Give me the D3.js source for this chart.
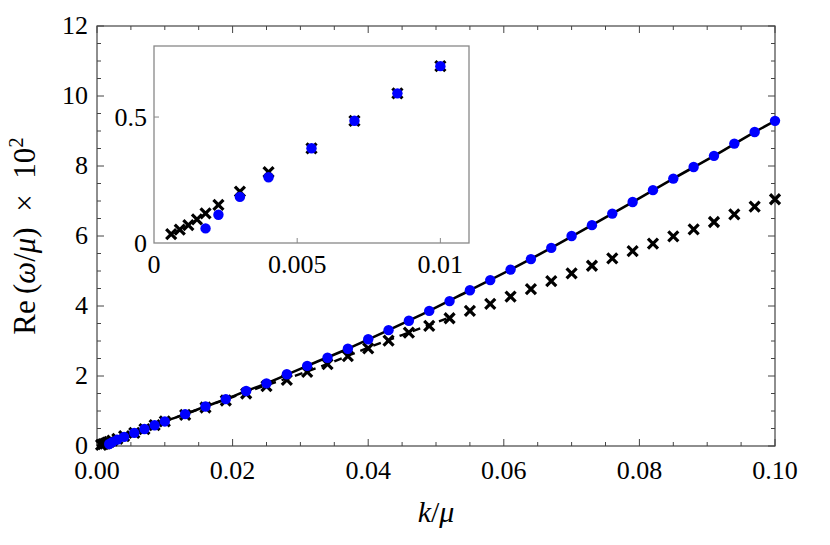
<!DOCTYPE html>
<html>
<head>
<meta charset="utf-8">
<script src="https://cdn.jsdelivr.net/npm/d3@7"></script>
<style>
  html, body { margin: 0; padding: 0; background: #fff; }
  text { font-family: "Liberation Serif", "DejaVu Serif", serif; }
</style>
</head>
<body>
<div id="grafico"></div>
<script>
// Datos: puntos azules (k/mu, Re(omega/mu) x 10^2)
const kPuntos = [0.0018, 0.00225, 0.003, 0.004, 0.0055, 0.007, 0.0085, 0.010,
  0.013, 0.016, 0.019, 0.022, 0.025, 0.028, 0.031, 0.034, 0.037, 0.040, 0.043, 0.046,
  0.049, 0.052, 0.055, 0.058, 0.061, 0.064, 0.067, 0.070, 0.073, 0.076, 0.079, 0.082,
  0.085, 0.088, 0.091, 0.094, 0.097, 0.100];
const rePuntos = [0.058, 0.112, 0.183, 0.261, 0.376, 0.485, 0.594, 0.702,
  0.91, 1.13, 1.34, 1.57, 1.79, 2.05, 2.29, 2.52, 2.78, 3.05, 3.31, 3.58,
  3.86, 4.14, 4.45, 4.74, 5.04, 5.34, 5.66, 6.00, 6.31, 6.64, 6.97, 7.31,
  7.64, 7.97, 8.29, 8.64, 8.97, 9.29];

// Datos: cruces negras
const kCruces = [0.0006, 0.0009, 0.0012, 0.0015, 0.0018, 0.00225, 0.003, 0.004, 0.0055, 0.007, 0.0085, 0.010,
  0.013, 0.016, 0.019, 0.022, 0.025, 0.028, 0.031, 0.034, 0.037, 0.040, 0.043, 0.046,
  0.049, 0.052, 0.055, 0.058, 0.061, 0.064, 0.067, 0.070, 0.073, 0.076, 0.079, 0.082,
  0.085, 0.088, 0.091, 0.094, 0.097, 0.100];
const reCruces = [0.035, 0.053, 0.071, 0.094, 0.118, 0.151, 0.204, 0.281, 0.376, 0.485, 0.594, 0.702,
  0.89, 1.10, 1.30, 1.50, 1.71, 1.89, 2.12, 2.34, 2.57, 2.79, 3.01, 3.24,
  3.43, 3.65, 3.86, 4.06, 4.27, 4.48, 4.71, 4.93, 5.15, 5.36, 5.57, 5.78,
  5.99, 6.19, 6.40, 6.62, 6.84, 7.05];

// Curva continua (pasa por los puntos azules desde el origen)
const kSolida = [0, 0.0018, 0.00225, 0.003, 0.004, 0.0055, 0.007, 0.0085, 0.010, 0.013, 0.016, 0.019,
  0.022, 0.025, 0.031, 0.037, 0.043, 0.049, 0.055, 0.061, 0.067, 0.073, 0.079, 0.085, 0.091, 0.097, 0.100];
const reSolida = [0, 0.058, 0.112, 0.183, 0.261, 0.376, 0.485, 0.594, 0.702, 0.91, 1.13, 1.34,
  1.57, 1.79, 2.29, 2.78, 3.31, 3.86, 4.45, 5.04, 5.66, 6.31, 6.97, 7.64, 8.29, 8.97, 9.29];

// Curva discontinua (solo hasta k ~ 0.052)
const kDiscontinua = [0, 0.005, 0.010, 0.015, 0.020, 0.025, 0.030, 0.035, 0.040, 0.045, 0.052];
const reDiscontinua = [0, 0.36, 0.70, 1.05, 1.40, 1.74, 2.06, 2.42, 2.81, 3.17, 3.67];

// Ticks
const ticksX = [0, 0.02, 0.04, 0.06, 0.08, 0.10];
const ticksY = [0, 2, 4, 6, 8, 10, 12];
const ticksXInset = [0, 0.005, 0.01];
const ticksYInset = [0, 0.5];

const width = 830;
const height = 545;

const svg = d3.select('#grafico')
  .append('svg')
  .attr('width', width)
  .attr('height', height);

// Área principal
const m = { left: 97, right: 775, top: 26, bottom: 446 };
const x = d3.scaleLinear().domain([0, 0.1]).range([m.left, m.right]);
const y = d3.scaleLinear().domain([0, 12]).range([m.bottom, m.top]);

const colorMarco = '#444';

// Ticks menores y mayores en los cuatro lados
const xMenores = d3.range(0, 0.1 + 1e-9, 0.005);
const yMenores = d3.range(0, 12 + 1e-9, 0.5);

function esMayor(v, lista) {
  return lista.some(t => Math.abs(t - v) < 1e-9);
}

const gTicks = svg.append('g').attr('stroke', colorMarco).attr('stroke-width', 1);
xMenores.forEach(v => {
  const l = esMayor(v, ticksX) ? 7 : 4;
  gTicks.append('line').attr('x1', x(v)).attr('x2', x(v)).attr('y1', m.bottom).attr('y2', m.bottom - l);
  gTicks.append('line').attr('x1', x(v)).attr('x2', x(v)).attr('y1', m.top).attr('y2', m.top + l);
});
yMenores.forEach(v => {
  const l = esMayor(v, ticksY) ? 7 : 4;
  gTicks.append('line').attr('y1', y(v)).attr('y2', y(v)).attr('x1', m.left).attr('x2', m.left + l);
  gTicks.append('line').attr('y1', y(v)).attr('y2', y(v)).attr('x1', m.right).attr('x2', m.right - l);
});

svg.append('rect')
  .attr('x', m.left).attr('y', m.top)
  .attr('width', m.right - m.left).attr('height', m.bottom - m.top)
  .attr('fill', 'none').attr('stroke', colorMarco).attr('stroke-width', 1.2);

// Etiquetas de los ejes
svg.append('g').selectAll('text').data(ticksX).join('text')
  .attr('x', d => x(d)).attr('y', 479)
  .attr('text-anchor', 'middle').attr('font-size', 26)
  .text(d => d3.format('.2f')(d));

svg.append('g').selectAll('text').data(ticksY).join('text')
  .attr('x', 88).attr('y', d => y(d) + 8)
  .attr('text-anchor', 'end').attr('font-size', 26)
  .text(d => d);

const tituloX = svg.append('text')
  .attr('x', (m.left + m.right) / 2).attr('y', 522)
  .attr('text-anchor', 'middle').attr('font-size', 30);
tituloX.append('tspan').attr('font-style', 'italic').text('k');
tituloX.append('tspan').text('/');
tituloX.append('tspan').attr('font-style', 'italic').text('μ');

const tituloY = svg.append('text')
  .attr('transform', `translate(35, ${(m.top + m.bottom) / 2}) rotate(-90)`)
  .attr('text-anchor', 'middle').attr('font-size', 31);
tituloY.append('tspan').text('Re\u2009(');
tituloY.append('tspan').attr('font-style', 'italic').text('ω');
tituloY.append('tspan').text('/');
tituloY.append('tspan').attr('font-style', 'italic').text('μ');
tituloY.append('tspan').text(')\u2002×\u200210');
tituloY.append('tspan').attr('dy', -12).attr('font-size', 21).text('2');

// Curvas
const linea = d3.line().x(d => x(d[0])).y(d => y(d[1])).curve(d3.curveMonotoneX);

svg.append('path')
  .attr('d', linea(d3.zip(kDiscontinua, reDiscontinua)))
  .attr('fill', 'none').attr('stroke', '#000').attr('stroke-width', 2.4)
  .attr('stroke-dasharray', '8,6');

svg.append('path')
  .attr('d', linea(d3.zip(kSolida, reSolida)))
  .attr('fill', 'none').attr('stroke', '#000').attr('stroke-width', 2.6);

// Marcadores
function dibujarCruces(g, sx, sy) {
  d3.zip(kCruces, reCruces)
    .filter(d => d[0] <= sx.domain()[1] + 1e-9)
    .forEach(d => {
      const cx = sx(d[0]);
      const cy = sy(d[1]);
      const s = 5;
      g.append('path')
        .attr('d', `M ${cx - s} ${cy - s} L ${cx + s} ${cy + s} M ${cx - s} ${cy + s} L ${cx + s} ${cy - s}`)
        .attr('stroke', '#000').attr('stroke-width', 3.2).attr('fill', 'none');
    });
}

function dibujarPuntos(g, sx, sy) {
  g.selectAll('circle')
    .data(d3.zip(kPuntos, rePuntos).filter(d => d[0] <= sx.domain()[1] + 1e-9))
    .join('circle')
    .attr('cx', d => sx(d[0])).attr('cy', d => sy(d[1]))
    .attr('r', 5.2).attr('fill', '#0000ff');
}

dibujarCruces(svg.append('g'), x, y);
dibujarPuntos(svg.append('g'), x, y);

// Recuadro interior (zoom)
const mi = { left: 154, right: 469, top: 46, bottom: 243 };
const xi = d3.scaleLinear().domain([0, 0.011]).range([mi.left, mi.right]);
const yi = d3.scaleLinear().domain([0, 0.782]).range([mi.bottom, mi.top]);

svg.append('rect')
  .attr('x', mi.left).attr('y', mi.top)
  .attr('width', mi.right - mi.left).attr('height', mi.bottom - mi.top)
  .attr('fill', '#fff').attr('stroke', '#888').attr('stroke-width', 1.3);

const gTicksI = svg.append('g').attr('stroke', '#888').attr('stroke-width', 1);
ticksXInset.slice(1).forEach(v => {
  gTicksI.append('line').attr('x1', xi(v)).attr('x2', xi(v)).attr('y1', mi.bottom).attr('y2', mi.bottom - 5);
});
ticksYInset.slice(1).forEach(v => {
  gTicksI.append('line').attr('y1', yi(v)).attr('y2', yi(v)).attr('x1', mi.left).attr('x2', mi.left + 5);
});

svg.append('g').selectAll('text').data(ticksXInset).join('text')
  .attr('x', d => xi(d)).attr('y', 273)
  .attr('text-anchor', 'middle').attr('font-size', 26)
  .text(d => d === 0 ? '0' : d3.format('.3~f')(d));

svg.append('g').selectAll('text').data(ticksYInset).join('text')
  .attr('x', 147).attr('y', d => yi(d) + 9)
  .attr('text-anchor', 'end').attr('font-size', 26)
  .text(d => d);

dibujarCruces(svg.append('g'), xi, yi);
dibujarPuntos(svg.append('g'), xi, yi);
</script>
</body>
</html>
